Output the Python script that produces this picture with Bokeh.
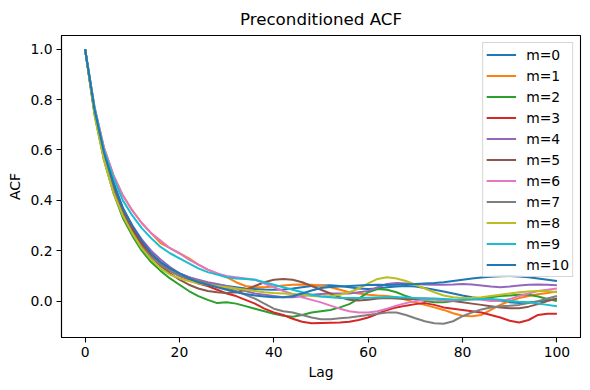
from bokeh.plotting import figure
from bokeh.models import Legend, LegendItem, FixedTicker, PrintfTickFormatter, Range1d
from bokeh.embed import file_html
from bokeh.resources import INLINE

lags = list(range(0, 101, 2))

acf_m0 = [1.0, 0.75, 0.58, 0.45, 0.35, 0.28, 0.22, 0.18, 0.15, 0.13, 0.11, 0.095, 0.08, 0.07, 0.065,
          0.06, 0.055, 0.05, 0.048, 0.046, 0.045, 0.046, 0.05, 0.055, 0.06, 0.062, 0.063, 0.06, 0.055,
          0.05, 0.048, 0.05, 0.055, 0.058, 0.06, 0.058, 0.052, 0.045, 0.038, 0.03, 0.022, 0.015, 0.01,
          0.005, 0.0, -0.005, -0.008, -0.006, -0.002, 0.003, 0.008]
acf_m1 = [1.0, 0.77, 0.61, 0.50, 0.42, 0.36, 0.31, 0.27, 0.23, 0.21, 0.19, 0.17, 0.145, 0.125, 0.11,
          0.095, 0.075, 0.06, 0.055, 0.055, 0.058, 0.062, 0.065, 0.066, 0.065, 0.062, 0.055, 0.045, 0.035,
          0.03, 0.025, 0.022, 0.02, 0.015, 0.005, -0.005, -0.015, -0.025, -0.035, -0.048, -0.058, -0.06,
          -0.055, -0.035, -0.015, 0.0, 0.012, 0.02, 0.027, 0.032, 0.038]
acf_m2 = [1.0, 0.74, 0.56, 0.43, 0.33, 0.26, 0.20, 0.155, 0.12, 0.09, 0.065, 0.04, 0.02, 0.005, -0.008,
          -0.005, -0.01, -0.02, -0.03, -0.04, -0.05, -0.058, -0.062, -0.055, -0.045, -0.04, -0.035, -0.025,
          -0.012, 0.01, 0.035, 0.048, 0.045, 0.035, 0.02, 0.008, 0.0, -0.005, -0.005, 0.0, 0.005, 0.008,
          0.01, 0.015, 0.02, 0.022, 0.025, 0.025, 0.018, 0.008, 0.0]
acf_m3 = [1.0, 0.75, 0.58, 0.46, 0.36, 0.29, 0.23, 0.18, 0.145, 0.12, 0.10, 0.085, 0.07, 0.06, 0.045,
          0.03, 0.02, 0.005, -0.01, -0.03, -0.045, -0.055, -0.07, -0.082, -0.088, -0.087, -0.086, -0.085,
          -0.082, -0.075, -0.065, -0.05, -0.035, -0.025, -0.018, -0.012, -0.008, -0.015, -0.025, -0.03,
          -0.035, -0.04, -0.045, -0.055, -0.065, -0.078, -0.085, -0.075, -0.055, -0.05, -0.05]
acf_m4 = [1.0, 0.76, 0.59, 0.47, 0.37, 0.30, 0.245, 0.20, 0.165, 0.135, 0.11, 0.095, 0.085, 0.075, 0.068,
          0.06, 0.05, 0.04, 0.03, 0.025, 0.02, 0.015, 0.015, 0.02, 0.025, 0.028, 0.03, 0.03, 0.03, 0.035,
          0.04, 0.055, 0.068, 0.072, 0.07, 0.068, 0.066, 0.065, 0.065, 0.066, 0.068, 0.066, 0.062, 0.058,
          0.055, 0.058, 0.062, 0.065, 0.066, 0.065, 0.063]
acf_m5 = [1.0, 0.75, 0.58, 0.45, 0.35, 0.28, 0.22, 0.175, 0.14, 0.11, 0.085, 0.065, 0.05, 0.04, 0.035,
          0.032, 0.035, 0.045, 0.06, 0.075, 0.085, 0.088, 0.085, 0.075, 0.06, 0.045, 0.03, 0.015, 0.005,
          0.002, 0.005, 0.01, 0.012, 0.01, 0.008, 0.008, 0.01, 0.008, 0.005, 0.0, -0.005, -0.01, -0.015,
          -0.02, -0.025, -0.028, -0.028, -0.022, -0.012, 0.0, 0.01]
acf_m6 = [1.0, 0.77, 0.61, 0.50, 0.42, 0.36, 0.31, 0.27, 0.24, 0.21, 0.19, 0.165, 0.145, 0.125, 0.11,
          0.10, 0.095, 0.09, 0.085, 0.07, 0.055, 0.04, 0.028, 0.015, 0.005, -0.005, -0.018, -0.03, -0.04,
          -0.045, -0.045, -0.04, -0.03, -0.018, -0.008, 0.0, 0.005, 0.005, 0.003, 0.002, 0.005, 0.008,
          0.005, 0.0, 0.0, 0.008, 0.02, 0.03, 0.04, 0.045, 0.05]
acf_m7 = [1.0, 0.75, 0.57, 0.44, 0.34, 0.27, 0.215, 0.175, 0.145, 0.12, 0.10, 0.09, 0.08, 0.07, 0.06,
          0.05, 0.04, 0.025, 0.01, -0.01, -0.03, -0.04, -0.045, -0.055, -0.065, -0.072, -0.072, -0.068,
          -0.065, -0.06, -0.055, -0.05, -0.045, -0.045, -0.055, -0.068, -0.08, -0.088, -0.09, -0.08, -0.06,
          -0.045, -0.033, -0.025, -0.02, -0.018, -0.015, -0.008, 0.0, 0.01, 0.02]
acf_m8 = [1.0, 0.74, 0.56, 0.43, 0.34, 0.27, 0.21, 0.165, 0.13, 0.105, 0.09, 0.08, 0.07, 0.065, 0.06,
          0.055, 0.05, 0.045, 0.04, 0.035, 0.032, 0.03, 0.028, 0.025, 0.02, 0.018, 0.02, 0.025, 0.035, 0.05,
          0.07, 0.088, 0.095, 0.09, 0.08, 0.065, 0.05, 0.035, 0.022, 0.015, 0.012, 0.012, 0.015, 0.02,
          0.025, 0.03, 0.035, 0.038, 0.04, 0.04, 0.035]
acf_m9 = [1.0, 0.77, 0.60, 0.49, 0.40, 0.34, 0.29, 0.25, 0.215, 0.19, 0.17, 0.15, 0.13, 0.115, 0.105,
          0.095, 0.09, 0.088, 0.085, 0.075, 0.065, 0.055, 0.045, 0.035, 0.025, 0.018, 0.015, 0.012, 0.012,
          0.012, 0.013, 0.014, 0.015, 0.015, 0.014, 0.012, 0.01, 0.01, 0.008, 0.006, 0.005, 0.006, 0.008,
          0.008, 0.005, 0.0, -0.003, -0.005, -0.01, -0.015, -0.02]
acf_m10 = [1.0, 0.76, 0.59, 0.47, 0.37, 0.30, 0.24, 0.19, 0.155, 0.13, 0.11, 0.09, 0.075, 0.065, 0.055,
           0.045, 0.035, 0.028, 0.022, 0.018, 0.015, 0.015, 0.02, 0.03, 0.042, 0.052, 0.056, 0.058, 0.06,
           0.062, 0.064, 0.065, 0.064, 0.065, 0.067, 0.068, 0.07, 0.072, 0.075, 0.08, 0.085, 0.09, 0.094,
           0.097, 0.099, 0.1, 0.098, 0.095, 0.09, 0.085, 0.08]

series = [acf_m0, acf_m1, acf_m2, acf_m3, acf_m4, acf_m5, acf_m6, acf_m7, acf_m8, acf_m9, acf_m10]
labels = ["m=0", "m=1", "m=2", "m=3", "m=4", "m=5", "m=6", "m=7", "m=8", "m=9", "m=10"]
colors = ["#1f77b4", "#ff7f0e", "#2ca02c", "#d62728", "#9467bd", "#8c564b",
          "#e377c2", "#7f7f7f", "#bcbd22", "#17becf", "#1f77b4"]
x_ticks = [0, 20, 40, 60, 80, 100]
y_ticks = [0.0, 0.2, 0.4, 0.6, 0.8, 1.0]

FONT = "DejaVu Sans"

p = figure(width=582, height=382, output_backend="svg", toolbar_location=None,
           x_range=Range1d(-5, 105), y_range=Range1d(-0.1445, 1.0545),
           title="Preconditioned ACF",
           min_border_left=61, min_border_right=2, min_border_top=32, min_border_bottom=45)
p.background_fill_color = "white"
p.border_fill_color = "white"
p.outline_line_color = "black"
p.outline_line_width = 1.1
p.xgrid.visible = False
p.ygrid.visible = False

p.title.text_font = FONT
p.title.text_font_size = "16.7px"
p.title.text_font_style = "normal"
p.title.text_color = "black"
p.title.align = "center"
p.title.standoff = 13

for ax in (p.xaxis[0], p.yaxis[0]):
    ax.axis_line_color = "black"
    ax.axis_line_width = 1.1
    ax.major_tick_line_color = "black"
    ax.major_tick_line_width = 1.1
    ax.major_tick_out = 5
    ax.major_tick_in = 0
    ax.minor_tick_line_color = None
    ax.major_label_text_font = FONT
    ax.major_label_text_font_size = "13.9px"
    ax.major_label_text_color = "black"
    ax.major_label_standoff = 4
    ax.axis_label_text_font = FONT
    ax.axis_label_text_font_size = "13.9px"
    ax.axis_label_text_font_style = "normal"
    ax.axis_label_text_color = "black"
    ax.axis_label_standoff = 4

p.xaxis[0].ticker = FixedTicker(ticks=x_ticks)
p.yaxis[0].ticker = FixedTicker(ticks=y_ticks)
p.yaxis[0].formatter = PrintfTickFormatter(format="%.1f")
p.xaxis[0].axis_label = "Lag"
p.yaxis[0].axis_label = "ACF"

renderers = []
for vals, col in zip(series, colors):
    r = p.line(lags, vals, line_color=col, line_width=2.0)
    renderers.append(r)

items = [LegendItem(label=lab, renderers=[r]) for lab, r in zip(labels, renderers)]
legend = Legend(items=items, location="top_right", margin=7, padding=3, spacing=4,
                glyph_width=30, glyph_height=17, label_height=17, label_standoff=10,
                label_text_font=FONT, label_text_font_size="13.9px", label_text_color="black",
                border_line_color="#cccccc", border_line_alpha=0.8, border_line_width=1,
                background_fill_color="white", background_fill_alpha=0.8)
p.add_layout(legend)

open("out.html", "w").write(file_html(p, INLINE))
